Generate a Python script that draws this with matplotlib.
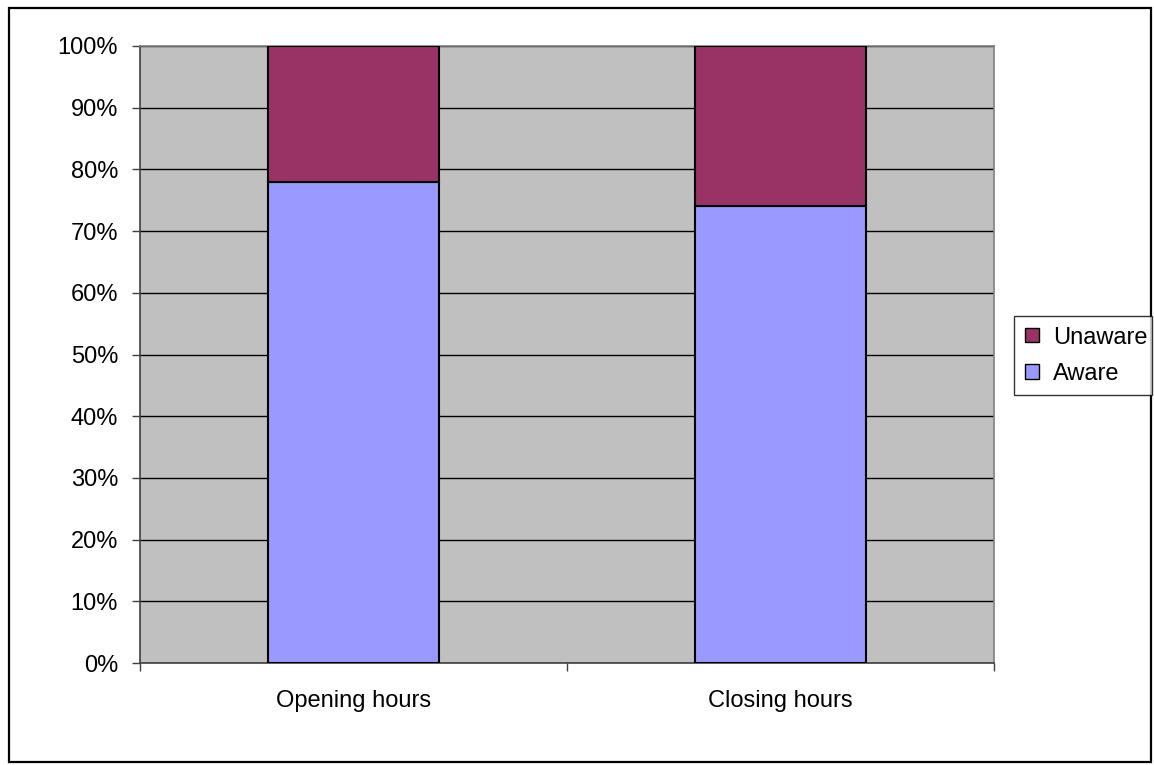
import matplotlib
matplotlib.use("Agg")
import matplotlib.pyplot as plt
from matplotlib.patches import Rectangle
from matplotlib.ticker import FixedLocator, PercentFormatter

plt.rcParams['font.family'] = ['Liberation Sans', 'DejaVu Sans']

categories = ["Opening hours", "Closing hours"]
aware = [78, 74]
unaware = [22, 26]
series_labels = ["Aware", "Unaware"]
y_ticks = [0, 10, 20, 30, 40, 50, 60, 70, 80, 90, 100]

aware_color = "#9999FF"
unaware_color = "#993366"
plot_bg = "#C0C0C0"
FS = 17

W, H = 1154, 765
fig = plt.figure(figsize=(W / 100, H / 100), dpi=100)

# outer chart frame
fig.patches.append(Rectangle((9 / W, 1 - 762 / H), (1151 - 9) / W, (762 - 8) / H,
                             transform=fig.transFigure, fill=False,
                             edgecolor="black", linewidth=1.6))

ax = fig.add_axes([140 / W, (H - 663) / H, 854 / W, 617 / H])
ax.set_facecolor(plot_bg)

x = list(range(len(categories)))
bars_aware = ax.bar(x, aware, width=0.4, color=aware_color,
                    edgecolor="black", linewidth=1.5, zorder=3,
                    label=series_labels[0])
bars_unaware = ax.bar(x, unaware, bottom=aware, width=0.4,
                      color=unaware_color, edgecolor="black", linewidth=1.5,
                      zorder=3, label=series_labels[1])

ax.set_xlim(-0.5, len(categories) - 0.5)
ax.set_ylim(0, 100)

ax.set_yticks(y_ticks)
ax.yaxis.set_major_formatter(PercentFormatter(decimals=0))
ax.grid(axis="y", color="black", linewidth=1.0, zorder=1)
ax.set_axisbelow(True)

# category boundary ticks (major) and centred labels (minor)
ax.xaxis.set_major_locator(FixedLocator([i - 0.5 for i in range(len(categories) + 1)]))
ax.xaxis.set_major_formatter(plt.NullFormatter())
ax.xaxis.set_minor_locator(FixedLocator(x))
ax.set_xticklabels(categories, minor=True)
ax.tick_params(axis="x", which="major", length=5.8, width=1, color="#404040", direction="out")
ax.tick_params(axis="x", which="minor", length=0, pad=19.5, labelsize=FS)
ax.tick_params(axis="y", length=5.8, width=1, color="#404040", direction="out",
               pad=10, labelsize=FS)

for side in ("left", "bottom"):
    ax.spines[side].set_color("#404040")
    ax.spines[side].set_linewidth(1.2)
for side in ("top", "right"):
    ax.spines[side].set_color("#808080")
    ax.spines[side].set_linewidth(1.2)

handles = [bars_unaware, bars_aware]
labels = [series_labels[1], series_labels[0]]
leg = fig.legend(handles, labels, loc="upper left",
                 bbox_to_anchor=(1014 / W, 1 - 395 / H, 138 / W, 79 / H),
                 mode="expand", frameon=True, fancybox=False,
                 edgecolor="black", fontsize=FS, handlelength=0.6,
                 handleheight=0.55, handletextpad=0.6, borderpad=0.45,
                 borderaxespad=0, labelspacing=0.6)
leg.get_frame().set_linewidth(1.0)
for h in leg.legend_handles:
    h.set_linewidth(1.0)

fig.savefig("out.png", dpi=100)
